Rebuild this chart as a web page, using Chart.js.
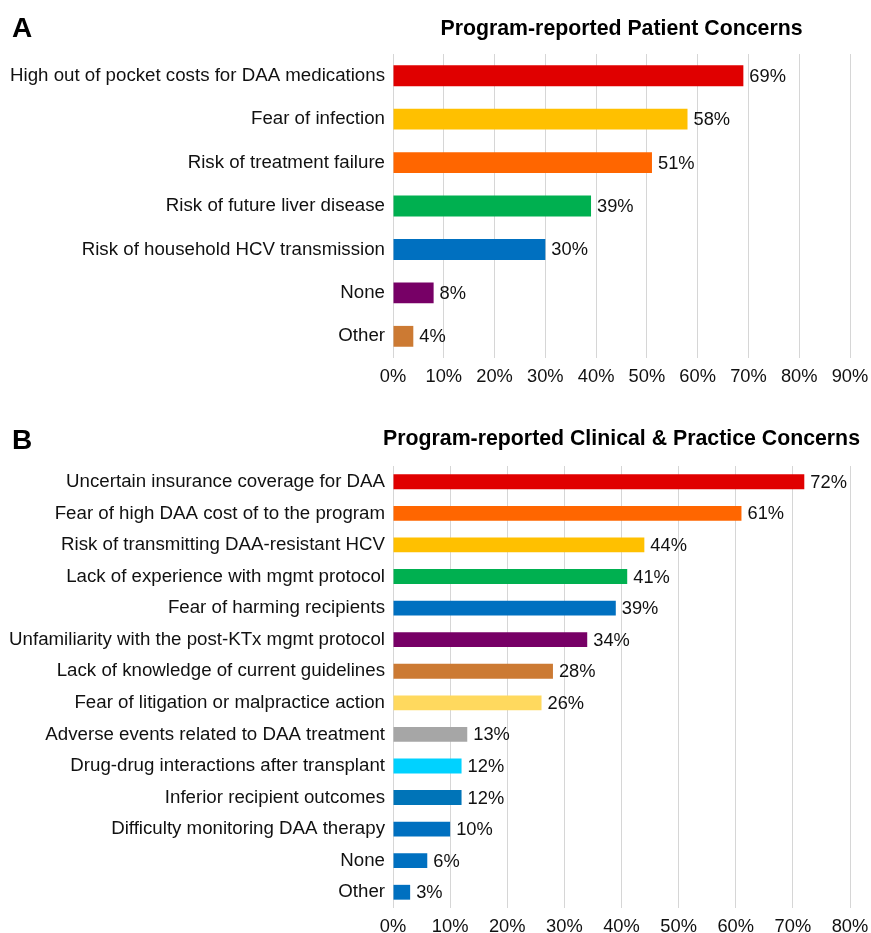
<!DOCTYPE html>
<html>
<head>
    <title>Program-reported concerns</title>
    <script src="https://cdn.jsdelivr.net/npm/chart.js"></script>
    <style>
        html, body {
            margin: 0;
            padding: 0;
            background: #ffffff;
            overflow: hidden;
        }
        .panel {
            position: absolute;
            left: 0;
        }
    </style>
</head>
<body>
    <canvas id="chartA" class="panel" width="871" height="400" style="top:0px"></canvas>
    <canvas id="chartB" class="panel" width="871" height="546" style="top:400px"></canvas>
    <script>
        // Panel A - patient concerns
        var patientLabels = [
            'High out of pocket costs for DAA medications',
            'Fear of infection',
            'Risk of treatment failure',
            'Risk of future liver disease',
            'Risk of household HCV transmission',
            'None',
            'Other'
        ];
        var patientValues = [69, 58, 51, 39, 30, 8, 4];
        var patientColors = ['#e00000', '#ffc000', '#ff6600', '#00b050', '#0070c0', '#770066', '#cc7a33'];
        var patientTicks = [0, 10, 20, 30, 40, 50, 60, 70, 80, 90];

        // Panel B - clinical & practice concerns
        var clinicalLabels = [
            'Uncertain insurance coverage for DAA',
            'Fear of high DAA cost of to the program',
            'Risk of transmitting DAA-resistant HCV',
            'Lack of experience with mgmt protocol',
            'Fear of harming recipients',
            'Unfamiliarity with the post-KTx mgmt protocol',
            'Lack of knowledge of current guidelines',
            'Fear of litigation or malpractice action',
            'Adverse events related to DAA treatment',
            'Drug-drug interactions after transplant',
            'Inferior recipient outcomes',
            'Difficulty monitoring DAA therapy',
            'None',
            'Other'
        ];
        var clinicalValues = [72, 61, 44, 41, 39, 34, 28, 26, 13, 12, 12, 10, 6, 3];
        var clinicalColors = ['#e00000', '#ff6600', '#ffc000', '#00b050', '#0070c0', '#770066', '#cc7a33',
                              '#ffd95e', '#a6a6a6', '#00d2ff', '#0074b8', '#0070c0', '#0070c0', '#0070c0'];
        var clinicalTicks = [0, 10, 20, 30, 40, 50, 60, 70, 80];

        var FONT = '"Liberation Sans", Arial, Helvetica, sans-serif';
        var TEXT = '#111111';
        Chart.defaults.font.family = FONT;
        Chart.defaults.color = TEXT;

        // value labels at the end of each bar
        var valueLabels = {
            id: 'valueLabels',
            afterDatasetsDraw: function(chart) {
                var ctx = chart.ctx;
                var meta = chart.getDatasetMeta(0);
                var values = chart.data.datasets[0].data;
                ctx.save();
                ctx.font = '18.3px ' + FONT;
                ctx.fillStyle = TEXT;
                ctx.textAlign = 'left';
                ctx.textBaseline = 'middle';
                meta.data.forEach(function(bar, i) {
                    ctx.fillText(values[i] + '%', bar.x + 6, bar.y + 1);
                });
                ctx.restore();
            }
        };

        // panel letter and centred title
        var panelTitle = {
            id: 'panelTitle',
            afterDraw: function(chart, args, opts) {
                var ctx = chart.ctx;
                var area = chart.chartArea;
                ctx.save();
                ctx.fillStyle = '#000000';
                ctx.textBaseline = 'alphabetic';
                ctx.textAlign = 'left';
                ctx.font = 'bold 28px ' + FONT;
                ctx.fillText(opts.letter, 12, opts.letterY);
                ctx.textAlign = 'center';
                ctx.font = 'bold 21.3px ' + FONT;
                ctx.fillText(opts.text, (area.left + area.right) / 2, opts.titleY);
                ctx.restore();
            }
        };

        function makeChart(id, labels, values, colors, ticks, panel) {
            var ctx = document.getElementById(id).getContext('2d');
            return new Chart(ctx, {
                type: 'bar',
                data: {
                    labels: labels,
                    datasets: [{
                        data: values,
                        backgroundColor: colors,
                        borderWidth: 0,
                        categoryPercentage: 1,
                        barPercentage: panel.barPct
                    }]
                },
                options: {
                    indexAxis: 'y',
                    responsive: false,
                    animation: false,
                    layout: {
                        padding: { top: panel.top, right: 21, bottom: panel.bottom, left: 0 }
                    },
                    plugins: {
                        legend: { display: false },
                        tooltip: { enabled: false },
                        panelTitle: panel
                    },
                    scales: {
                        x: {
                            min: ticks[0],
                            max: ticks[ticks.length - 1],
                            afterBuildTicks: function(scale) {
                                scale.ticks = ticks.map(function(v) { return { value: v }; });
                            },
                            afterFit: function(scale) {
                                // let the layout padding alone decide the right edge
                                scale.paddingLeft = 0;
                                scale.paddingRight = 0;
                            },
                            grid: { color: '#d6d6d6', lineWidth: 1, drawTicks: false },
                            border: { display: false },
                            ticks: {
                                padding: 8,
                                font: { size: 18.3 },
                                color: TEXT,
                                callback: function(v) { return v + '%'; }
                            }
                        },
                        y: {
                            afterFit: function(scale) { scale.width = 393; },
                            grid: { display: false, drawTicks: false },
                            border: { display: false },
                            ticks: {
                                padding: 8,
                                font: { size: 18.7 },
                                color: TEXT
                            }
                        }
                    }
                },
                plugins: [valueLabels, panelTitle]
            });
        }

        makeChart('chartA', patientLabels, patientValues, patientColors, patientTicks, {
            letter: 'A', letterY: 37, text: 'Program-reported Patient Concerns', titleY: 35,
            top: 54, bottom: 4, barPct: 0.48
        });
        makeChart('chartB', clinicalLabels, clinicalValues, clinicalColors, clinicalTicks, {
            letter: 'B', letterY: 49, text: 'Program-reported Clinical & Practice Concerns', titleY: 45,
            top: 66, bottom: 0, barPct: 0.47
        });
    </script>
</body>
</html>
